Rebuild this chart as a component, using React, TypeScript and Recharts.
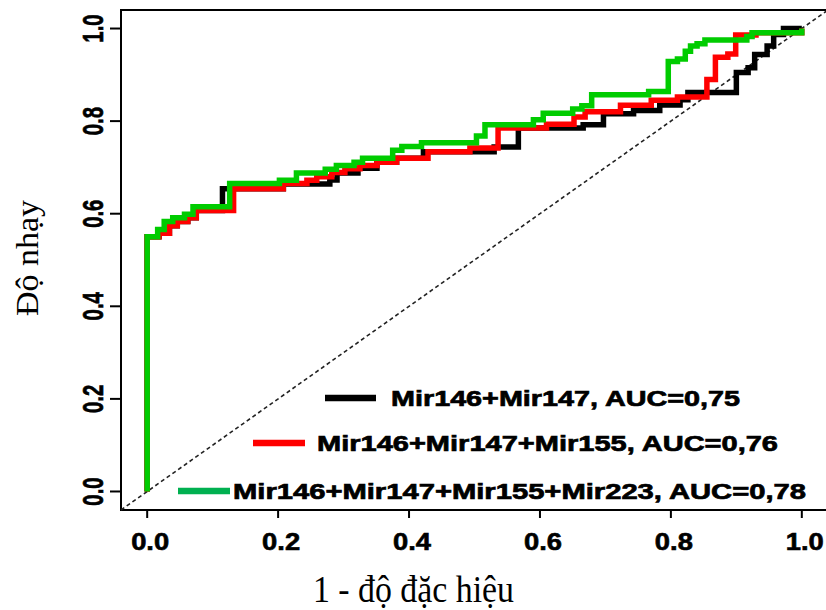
import React from "react";
import {
  LineChart,
  Line,
  XAxis,
  YAxis,
  ReferenceArea,
  ReferenceLine,
} from "recharts";

// ROC vertices (1 - specificity, sensitivity)
const fprA = [0, 0, 0.018, 0.034, 0.046, 0.062, 0.075, 0.115, 0.208, 0.279, 0.29, 0.322, 0.351, 0.381, 0.422, 0.53, 0.567, 0.666, 0.697, 0.743, 0.783, 0.814, 0.826, 0.9, 0.918, 0.928, 0.947, 0.957, 0.972, 1];
const tprA = [0, 0.55, 0.558, 0.574, 0.583, 0.591, 0.607, 0.654, 0.664, 0.673, 0.688, 0.698, 0.711, 0.72, 0.734, 0.744, 0.785, 0.792, 0.816, 0.823, 0.835, 0.846, 0.862, 0.905, 0.915, 0.944, 0.962, 0.987, 1, 1];

const fprB = [0, 0, 0.018, 0.034, 0.046, 0.062, 0.075, 0.132, 0.208, 0.244, 0.259, 0.282, 0.302, 0.325, 0.351, 0.381, 0.429, 0.493, 0.536, 0.61, 0.652, 0.669, 0.723, 0.77, 0.81, 0.855, 0.868, 0.887, 0.899, 0.93, 1];
const tprB = [0, 0.55, 0.558, 0.574, 0.583, 0.591, 0.607, 0.654, 0.665, 0.672, 0.68, 0.689, 0.697, 0.704, 0.711, 0.72, 0.734, 0.742, 0.785, 0.793, 0.809, 0.82, 0.834, 0.845, 0.852, 0.89, 0.938, 0.945, 0.986, 0.991, 1];

const fprC = [0, 0, 0.016, 0.026, 0.039, 0.057, 0.07, 0.126, 0.202, 0.228, 0.272, 0.289, 0.316, 0.329, 0.375, 0.389, 0.419, 0.503, 0.516, 0.59, 0.605, 0.65, 0.664, 0.679, 0.766, 0.796, 0.81, 0.822, 0.83, 0.84, 0.852, 0.916, 0.924, 1];
const tprC = [0, 0.55, 0.566, 0.583, 0.591, 0.599, 0.615, 0.665, 0.672, 0.688, 0.696, 0.704, 0.711, 0.72, 0.737, 0.745, 0.753, 0.768, 0.792, 0.803, 0.817, 0.826, 0.833, 0.857, 0.864, 0.929, 0.934, 0.951, 0.962, 0.967, 0.975, 0.983, 0.991, 1];

const seriesLabels = [
  "Mir146+Mir147, AUC=0,75",
  "Mir146+Mir147+Mir155, AUC=0,76",
  "Mir146+Mir147+Mir155+Mir223, AUC=0,78",
];
const lineColors = ["#000000", "#ff0000", "#00cc00"];
const legendColors = ["#000000", "#ff0000", "#00b050"];

const axisTicks = [0, 0.2, 0.4, 0.6, 0.8, 1.0];
const xTitle = "1 - độ đặc hiệu";
const yTitle = "Độ nhạy";

const toPoints = (xs: number[], ys: number[]) =>
  xs.map((x, i) => ({ x, y: ys[i] }));

const series = [
  toPoints(fprA, tprA),
  toPoints(fprB, tprB),
  toPoints(fprC, tprC),
];

const SANS = "'Liberation Sans', Arial, sans-serif";
const SERIF = "'Liberation Serif', 'Times New Roman', serif";

function XTick(props: any) {
  const { x, y, payload } = props;
  return (
    <text
      x={x + 3}
      y={y + 30}
      textAnchor="middle"
      fontFamily={SANS}
      fontWeight={700}
      fontSize={23.3}
      fill="#000"
      stroke="#000"
      strokeWidth={0.6}
      textLength={38}
      lengthAdjust="spacingAndGlyphs"
    >
      {Number(payload.value).toFixed(1)}
    </text>
  );
}

function YTick(props: any) {
  const { x, y, payload } = props;
  return (
    <g transform={`translate(${x - 4.7},${y}) scale(1.3,1) rotate(-90)`}>
      <text
        x={0}
        y={0}
        textAnchor="middle"
        fontFamily={SANS}
        fontWeight={700}
        fontSize={23.3}
        fill="#000"
        stroke="#000"
        strokeWidth={0.5}
        textLength={28.3}
        lengthAdjust="spacingAndGlyphs"
      >
        {Number(payload.value).toFixed(1)}
      </text>
    </g>
  );
}

// legend rows: line start/end, text start/length, row centre
const legendRows = [
  { x1: 325, x2: 376, tx: 391, tl: 349, cy: 398 },
  { x1: 253, x2: 305, tx: 317, tl: 461, cy: 443 },
  { x1: 178, x2: 230, tx: 233, tl: 573, cy: 491 },
];

export default function App() {
  return (
    <div
      style={{
        position: "absolute",
        left: 0,
        top: 0,
        width: 826,
        height: 610,
        overflow: "hidden",
        background: "#fff",
      }}
    >
      <LineChart
        width={828}
        height={610}
        margin={{ top: 10, right: 0, bottom: 0, left: 0 }}
      >
        <XAxis
          dataKey="x"
          type="number"
          domain={[-0.04, 1.04]}
          allowDataOverflow
          ticks={axisTicks}
          height={100}
          axisLine={false}
          tickSize={8}
          tickLine={{ stroke: "#000", strokeWidth: 2 }}
          tick={<XTick />}
        />
        <YAxis
          type="number"
          domain={[-0.04, 1.04]}
          allowDataOverflow
          ticks={axisTicks}
          width={121}
          axisLine={false}
          tickSize={11}
          tickLine={{ stroke: "#000", strokeWidth: 2 }}
          tick={<YTick />}
        />
        <ReferenceLine
          segment={[
            { x: -0.04, y: -0.04 },
            { x: 1.04, y: 1.04 },
          ]}
          stroke="#222"
          strokeWidth={1.6}
          strokeDasharray="4 3"
        />
        {series.map((d, i) => (
          <Line
            key={seriesLabels[i]}
            data={d}
            dataKey="y"
            type="stepAfter"
            stroke={lineColors[i]}
            strokeWidth={5.5}
            dot={false}
            activeDot={false}
            isAnimationActive={false}
          />
        ))}
        <ReferenceArea
          x1={-0.04}
          x2={1.04}
          y1={-0.04}
          y2={1.04}
          fill="none"
          fillOpacity={0}
          stroke="#000"
          strokeWidth={2}
        />
      </LineChart>
      <svg
        width={826}
        height={610}
        style={{ position: "absolute", left: 0, top: 0, pointerEvents: "none" }}
      >
        {legendRows.map((r, i) => (
          <g key={seriesLabels[i]}>
            <line
              x1={r.x1}
              x2={r.x2}
              y1={r.cy}
              y2={r.cy}
              stroke={legendColors[i]}
              strokeWidth={6.5}
            />
            <text
              x={r.tx}
              y={r.cy + 8}
              fontFamily={SANS}
              fontWeight={700}
              fontSize={22.5}
              fill="#000"
              stroke="#000"
              strokeWidth={0.7}
              textLength={r.tl}
              lengthAdjust="spacingAndGlyphs"
            >
              {seriesLabels[i]}
            </text>
          </g>
        ))}
        <text
          x={413.5}
          y={601.5}
          textAnchor="middle"
          fontFamily={SERIF}
          fontSize={38}
          fill="#000"
          textLength={201}
          lengthAdjust="spacingAndGlyphs"
        >
          {xTitle}
        </text>
        <text
          transform="translate(38,258) rotate(-90)"
          textAnchor="middle"
          fontFamily={SERIF}
          fontSize={31}
          fill="#000"
          textLength={116}
          lengthAdjust="spacingAndGlyphs"
        >
          {yTitle}
        </text>
      </svg>
    </div>
  );
}
